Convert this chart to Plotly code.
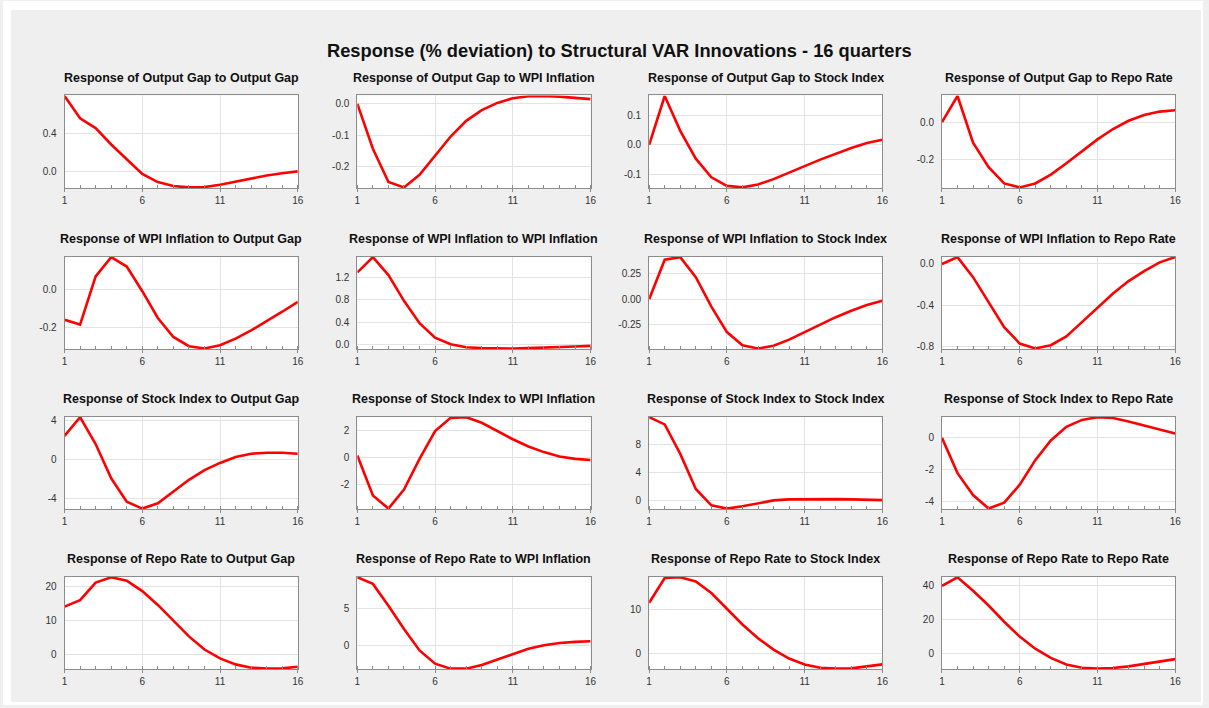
import plotly.graph_objects as go

# ---------------- data ----------------
quarters = list(range(1, 17))
variables = ["Output Gap", "WPI Inflation", "Stock Index", "Repo Rate"]
main_title = "Response (% deviation) to Structural VAR Innovations - 16 quarters"
x_ticks = [1, 6, 11, 16]

# Responses of Output Gap
og_to_og = [0.797, 0.562, 0.459, 0.286, 0.131, -0.024, -0.110, -0.152, -0.166, -0.162, -0.138, -0.103, -0.069, -0.041, -0.017, 0.003]
og_to_wpi = [0.0, -0.143, -0.249, -0.266, -0.226, -0.164, -0.104, -0.054, -0.020, 0.003, 0.018, 0.024, 0.025, 0.023, 0.019, 0.015]
og_to_stock = [0.0, 0.165, 0.047, -0.047, -0.110, -0.139, -0.144, -0.134, -0.116, -0.095, -0.072, -0.050, -0.030, -0.011, 0.006, 0.017]
og_to_repo = [0.0, 0.139, -0.110, -0.240, -0.327, -0.348, -0.327, -0.280, -0.219, -0.153, -0.092, -0.037, 0.007, 0.038, 0.056, 0.063]

# Responses of WPI Inflation
wpi_to_og = [-0.160, -0.186, 0.070, 0.172, 0.122, -0.009, -0.151, -0.252, -0.301, -0.313, -0.296, -0.261, -0.217, -0.169, -0.118, -0.066]
wpi_to_wpi = [1.287, 1.560, 1.240, 0.780, 0.380, 0.122, 0.006, -0.047, -0.064, -0.070, -0.070, -0.064, -0.058, -0.047, -0.035, -0.023]
wpi_to_stock = [0.0, 0.387, 0.413, 0.216, -0.074, -0.323, -0.452, -0.484, -0.458, -0.397, -0.323, -0.248, -0.177, -0.113, -0.058, -0.016]
wpi_to_repo = [0.0, 0.067, -0.128, -0.374, -0.614, -0.774, -0.822, -0.790, -0.704, -0.566, -0.422, -0.288, -0.166, -0.070, 0.016, 0.067]

# Responses of Stock Index
stock_to_og = [2.45, 4.37, 1.61, -1.92, -4.34, -5.04, -4.50, -3.26, -2.08, -1.08, -0.34, 0.27, 0.61, 0.71, 0.71, 0.61]
stock_to_wpi = [0.14, -2.77, -3.73, -2.34, -0.10, 1.93, 2.89, 2.94, 2.53, 1.93, 1.33, 0.80, 0.39, 0.07, -0.10, -0.19]
stock_to_stock = [11.93, 10.90, 6.69, 1.68, -0.65, -1.12, -0.80, -0.33, 0.05, 0.19, 0.23, 0.23, 0.23, 0.19, 0.14, 0.09]
stock_to_repo = [0.0, -2.20, -3.57, -4.41, -4.04, -2.92, -1.39, -0.16, 0.69, 1.12, 1.29, 1.24, 1.02, 0.76, 0.51, 0.27]

# Responses of Repo Rate
repo_to_og = [14.0, 15.9, 21.06, 22.6, 21.6, 18.55, 14.5, 9.95, 5.3, 1.45, -1.16, -2.9, -3.86, -4.15, -4.06, -3.57]
repo_to_wpi = [9.16, 8.27, 5.35, 2.21, -0.66, -2.43, -3.10, -3.10, -2.61, -1.86, -1.11, -0.44, 0.04, 0.35, 0.49, 0.58]
repo_to_stock = [11.57, 17.24, 17.39, 16.42, 13.81, 10.22, 6.64, 3.51, 0.90, -1.12, -2.46, -3.21, -3.43, -3.36, -2.99, -2.46]
repo_to_repo = [39.6, 44.6, 36.7, 28.1, 18.6, 9.95, 2.87, -2.49, -6.32, -8.23, -8.8, -8.4, -7.46, -6.12, -4.78, -3.25]

responses = [
    [og_to_og, og_to_wpi, og_to_stock, og_to_repo],
    [wpi_to_og, wpi_to_wpi, wpi_to_stock, wpi_to_repo],
    [stock_to_og, stock_to_wpi, stock_to_stock, stock_to_repo],
    [repo_to_og, repo_to_wpi, repo_to_stock, repo_to_repo],
]

# y tick values per panel (row-major) and their decimals
y_tick_values = [
    [0.0, 0.4], [-0.2, -0.1, 0.0], [-0.1, 0.0, 0.1], [-0.2, 0.0],
    [-0.2, 0.0], [0.0, 0.4, 0.8, 1.2], [-0.25, 0.0, 0.25], [-0.8, -0.4, 0.0],
    [-4, 0, 4], [-2, 0, 2], [0, 4, 8], [-4, -2, 0],
    [0, 10, 20], [0, 5], [0, 10], [0, 20, 40],
]
y_tick_decimals = [1, 1, 1, 1, 1, 1, 2, 1, 0, 0, 0, 0, 0, 0, 0, 0]

# ---------------- layout geometry (pixels) ----------------
W, H = 1209, 708
col_left = [62, 357, 651, 946]
box_w = 235
row_top = [95, 257, 418, 579]
box_h = 93
title_y = [77, 239, 400, 561]

FONT = "Liberation Sans, Arial, sans-serif"
RED = "#ff0000"
GRID = "#e3e3e3"
BORDER = "#8c8c8c"
TICKC = "#333333"
PANEL_BG = "#efefef"


def strip(x0, x1, y0, y1):
    return dict(type="rect", xref="paper", yref="paper",
                x0=x0 / W, x1=x1 / W, y0=1 - y1 / H, y1=1 - y0 / H,
                fillcolor="white", line=dict(width=0), layer="below")


fig = go.Figure()
layout = dict(
    width=W, height=H,
    margin=dict(l=0, r=0, t=0, b=0),
    paper_bgcolor=PANEL_BG,
    plot_bgcolor="white",
    showlegend=False,
    shapes=[strip(0, W, 0, 9), strip(0, W, 705, H), strip(0, 8, 0, H), strip(1207, W, 0, H)],
    annotations=[dict(text="<b>" + main_title + "</b>", xref="paper", yref="paper",
                      x=621 / W, y=1 - 50 / H, xanchor="center", yanchor="middle",
                      showarrow=False, font=dict(family=FONT, size=18.3, color="#111111"))],
)

k = 0
for r in range(4):
    for c in range(4):
        k += 1
        ys = responses[r][c]
        xa = "x" if k == 1 else f"x{k}"
        ya = "y" if k == 1 else f"y{k}"
        fig.add_trace(go.Scatter(x=quarters, y=ys, mode="lines",
                                 line=dict(color=RED, width=2.6),
                                 xaxis=xa, yaxis=ya, hoverinfo="skip"))
        lo, hi = min(ys), max(ys)
        pad = (hi - lo) * 0.006
        tv = [v for v in y_tick_values[k - 1] if lo - pad <= v <= hi + pad]
        tt = [f"{v:.{y_tick_decimals[k - 1]}f}" for v in tv]
        x0 = col_left[c] / W
        x1 = (col_left[c] + box_w) / W
        y1 = 1 - row_top[r] / H
        y0 = 1 - (row_top[r] + box_h) / H
        axn = "" if k == 1 else str(k)
        layout["xaxis" + axn] = dict(
            domain=[x0, x1], anchor=ya, range=[1, 16],
            tickvals=x_ticks, ticktext=[str(v) for v in x_ticks],
            ticks="outside", ticklen=3, tickcolor=BORDER,
            minor=dict(dtick=1, tick0=1, ticks="inside", ticklen=3, tickcolor=BORDER, showgrid=False),
            showgrid=True, gridcolor=GRID, gridwidth=1,
            showline=True, linecolor=BORDER, linewidth=1, mirror=True,
            zeroline=False, tickfont=dict(family=FONT, size=10, color=TICKC),
            fixedrange=True,
        )
        layout["yaxis" + axn] = dict(
            domain=[y0, y1], anchor=xa, range=[lo - pad, hi + pad],
            tickvals=tv, ticktext=tt, ticks="",
            ticklabelstandoff=5,
            showgrid=True, gridcolor=GRID, gridwidth=1,
            showline=True, linecolor=BORDER, linewidth=1, mirror=True,
            zeroline=False, tickfont=dict(family=FONT, size=10, color=TICKC),
            fixedrange=True,
        )
        layout["annotations"].append(dict(
            text="<b>Response of " + variables[r] + " to " + variables[c] + "</b>",
            xref="paper", yref="paper",
            x=(col_left[c] + box_w / 2) / W, y=1 - title_y[r] / H,
            xanchor="center", yanchor="middle", showarrow=False,
            font=dict(family=FONT, size=12.5, color="#111111"),
        ))

fig.update_layout(**layout)
fig.write_html(
    "out.html",
    config={"displayModeBar": False},
    post_script="document.body.style.margin='0';document.body.style.padding='0';document.body.style.overflow='hidden';",
)
